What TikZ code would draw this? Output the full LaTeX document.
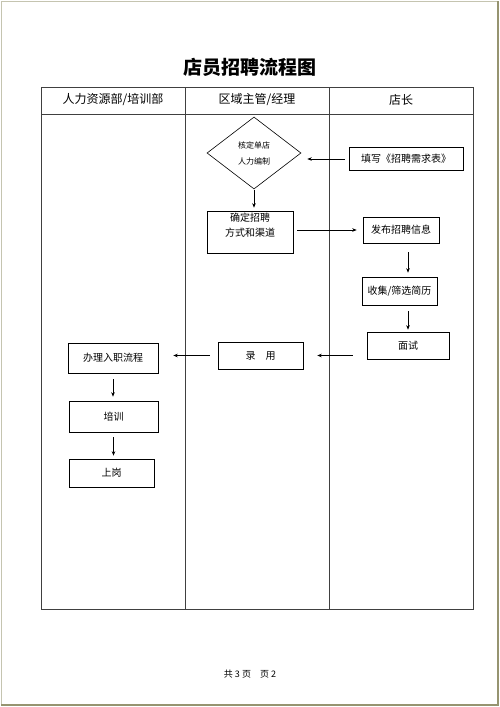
\documentclass[tikz,border=0pt]{standalone}
\usepackage{fontspec}
\setmainfont{Noto Sans CJK SC}
\usetikzlibrary{shapes.geometric,arrows.meta}

\definecolor{pageedge}{RGB}{150,148,112}

\begin{document}
\begin{tikzpicture}[x=1pt,y=-1pt,
  lane/.style={draw=black!75,line width=0.7pt},
  head/.style={font=\fontsize{12}{14}\selectfont},
  box/.style={draw,rectangle,inner sep=0pt,line width=0.6pt,align=center,font=\fontsize{10}{15}\selectfont},
  flow/.style={-{Stealth[length=4.5pt,width=3.5pt]},line width=0.6pt}]
  \useasboundingbox (0,0) rectangle (500,707);

  \draw[pageedge!55,line width=0.8pt] (1.5,704) -- (1.5,1.5) -- (497,1.5);
  \draw[pageedge,line width=2.2pt] (1,704.6) -- (498,704.6) -- (498,1);

  \node (title) at (250,67) [font=\fontsize{19}{22}\selectfont\bfseries] {店员招聘流程图};

  \draw[lane] (41,87) rectangle (473,609);
  \draw[lane] (41,114) -- (473,114);
  \draw[lane] (185,87) -- (185,609);
  \draw[lane] (329,87) -- (329,609);

  \node (hr)      at (113,100) [head] {人力资源部/培训部};
  \node (area)    at (257,100) [head] {区域主管/经理};
  \node (manager) at (401,100) [head] {店长};

  \node (quota) at (254,153) [draw,diamond,aspect=1.3,inner sep=0pt,line width=0.6pt,
    minimum width=94pt,minimum height=72pt,align=center,font=\fontsize{8}{16}\selectfont] {核定单店\\人力编制};
  \node (plan)      at (250,232)   [box,minimum width=86pt,minimum height=42pt] {确定招聘\\方式和渠道\\ };
  \node (fill)      at (406,159)   [box,minimum width=114pt,minimum height=23pt] {填写《招聘需求表》};
  \node (pub)       at (401,230)   [box,minimum width=76pt,minimum height=26pt] {发布招聘信息};
  \node (collect)   at (399.5,291) [box,minimum width=75pt,minimum height=28pt] {收集/筛选简历};
  \node (interview) at (408,345.5) [box,minimum width=82pt,minimum height=27pt] {面试};
  \node (hire)      at (260.5,355.5) [box,minimum width=85pt,minimum height=27pt] {录\hspace{1em}用};
  \node (handle)    at (113,358)   [box,minimum width=90pt,minimum height=30pt] {办理入职流程};
  \node (train)     at (113.5,416.5) [box,minimum width=89pt,minimum height=31pt] {培训};
  \node (post)      at (111.5,473) [box,minimum width=85pt,minimum height=28pt] {上岗};

  \draw[flow,shorten <=4pt,shorten >=6pt] (fill.west) -- (fill.west -| quota.east);
  \draw[flow,shorten <=1pt,shorten >=3pt] (quota.south) -- (quota.south |- plan.north);
  \draw[flow,shorten <=4pt,shorten >=6pt] (plan.east |- pub.west) -- (pub.west);
  \draw[flow,shorten <=9pt,shorten >=4pt] ([xshift=7pt]pub.south) -- ([xshift=7pt]pub.south |- collect.north);
  \draw[flow,shorten <=6pt,shorten >=2pt] (collect.south -| interview.north) -- (interview.north);
  \draw[flow,shorten <=14pt,shorten >=14pt] (interview.west |- hire.east) -- (hire.east);
  \draw[flow,shorten <=8pt,shorten >=15pt] (hire.west) -- (hire.west -| handle.east);
  \draw[flow,shorten <=6pt,shorten >=4pt] (handle.south) -- (handle.south |- train.north);
  \draw[flow,shorten <=5pt,shorten >=3pt] (train.south) -- (train.south |- post.north);

  \node (page) at (250,674) [font=\fontsize{9}{11}\selectfont] {共 3 页\quad 页 2};
\end{tikzpicture}
\end{document}
